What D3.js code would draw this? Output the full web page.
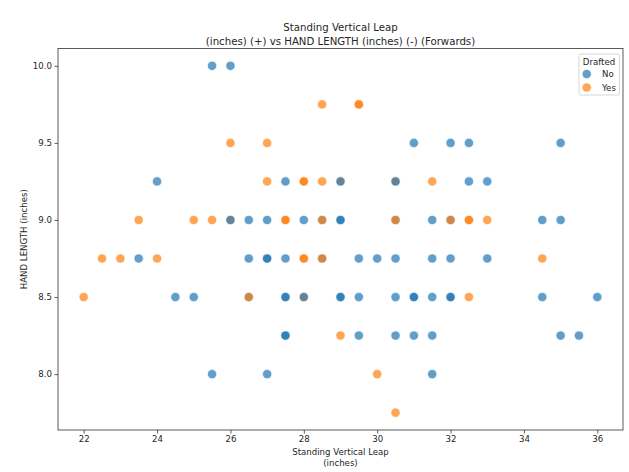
<!DOCTYPE html>
<html>
<head>
<meta charset="utf-8">
<script src="https://cdn.jsdelivr.net/npm/d3@7"></script>
<style>
  html, body { margin: 0; padding: 0; background: #fff; }
  text { font-family: "DejaVu Sans", sans-serif; fill: #262626; }
</style>
</head>
<body>
<svg id="chart" width="629" height="472"></svg>
<script>
// ---- Data (drawing order matters for overlapping points) ----
const leapValues = [
  29, 30.5, 26, 28,
  25.5, 26,
  31, 32, 32.5, 35,
  24, 27.5, 29, 30.5, 32.5, 33,
  26, 26.5, 27, 28, 28.5, 29, 29, 30.5, 31.5, 32, 34.5, 35,
  23.5, 26.5, 27, 27, 27.5, 28.5, 29.5, 30, 30.5, 31.5, 32, 33,
  24.5, 25, 26.5, 27.5, 27.5, 28, 29, 29, 29.5, 30.5, 31, 31, 31.5, 32, 32, 34.5, 36,
  27.5, 27.5, 29.5, 30.5, 31, 31.5, 35, 35.5,
  25.5, 27, 31.5,
  26, 27, 28.5, 29.5, 29.5,
  27, 28, 28, 28.5, 31.5,
  23.5, 25, 25.5, 27.5, 27.5, 28.5, 30.5, 32, 32.5, 32.5, 33,
  22.5, 23, 24, 28, 28, 28.5, 34.5,
  22, 26.5, 32.5,
  29, 30, 30.5
];
const handValues = [
  9.25, 9.25, 9.0, 8.5,
  10.0, 10.0,
  9.5, 9.5, 9.5, 9.5,
  9.25, 9.25, 9.25, 9.25, 9.25, 9.25,
  9.0, 9.0, 9.0, 9.0, 9.0, 9.0, 9.0, 9.0, 9.0, 9.0, 9.0, 9.0,
  8.75, 8.75, 8.75, 8.75, 8.75, 8.75, 8.75, 8.75, 8.75, 8.75, 8.75, 8.75,
  8.5, 8.5, 8.5, 8.5, 8.5, 8.5, 8.5, 8.5, 8.5, 8.5, 8.5, 8.5, 8.5, 8.5, 8.5, 8.5, 8.5,
  8.25, 8.25, 8.25, 8.25, 8.25, 8.25, 8.25, 8.25,
  8.0, 8.0, 8.0,
  9.5, 9.5, 9.75, 9.75, 9.75,
  9.25, 9.25, 9.25, 9.25, 9.25,
  9.0, 9.0, 9.0, 9.0, 9.0, 9.0, 9.0, 9.0, 9.0, 9.0, 9.0,
  8.75, 8.75, 8.75, 8.75, 8.75, 8.75, 8.75,
  8.5, 8.5, 8.5,
  8.25, 8.0, 7.75
];
const draftedValues = [
  "Yes", "Yes", "Yes", "Yes",
  "No", "No",
  "No", "No", "No", "No",
  "No", "No", "No", "No", "No", "No",
  "No", "No", "No", "No", "No", "No", "No", "No", "No", "No", "No", "No",
  "No", "No", "No", "No", "No", "No", "No", "No", "No", "No", "No", "No",
  "No", "No", "No", "No", "No", "No", "No", "No", "No", "No", "No", "No", "No", "No", "No", "No", "No",
  "No", "No", "No", "No", "No", "No", "No", "No",
  "No", "No", "No",
  "Yes", "Yes", "Yes", "Yes", "Yes",
  "Yes", "Yes", "Yes", "Yes", "Yes",
  "Yes", "Yes", "Yes", "Yes", "Yes", "Yes", "Yes", "Yes", "Yes", "Yes", "Yes",
  "Yes", "Yes", "Yes", "Yes", "Yes", "Yes", "Yes",
  "Yes", "Yes", "Yes",
  "Yes", "Yes", "Yes"
];
const xTicks = [22, 24, 26, 28, 30, 32, 34, 36];
const yTicks = [8.0, 8.5, 9.0, 9.5, 10.0];
const hueLevels = ["No", "Yes"];
const hueColors = ["#1f77b4", "#ff7f0e"];
const titleLines = ["Standing Vertical Leap", "(inches) (+) vs HAND LENGTH (inches) (-) (Forwards)"];
const xLabelLines = ["Standing Vertical Leap", "(inches)"];
const yLabel = "HAND LENGTH (inches)";
const legendTitle = "Drafted";

(function () {
const points = leapValues.map((v, i) => ({ x: v, y: handValues[i], d: draftedValues[i] }));

// ---- Layout ----
const svg = d3.select("#chart");
const pLeft = 58, pRight = 623, pTop = 48.5, pBottom = 430;

const x = d3.scaleLinear().domain([21.3, 36.7]).range([pLeft, pRight]);
const y = d3.scaleLinear().domain([7.6375, 10.1125]).range([pBottom, pTop]);
const color = d3.scaleOrdinal().domain(hueLevels).range(hueColors);

// Points
svg.append("g")
  .selectAll("circle")
  .data(points)
  .join("circle")
  .attr("cx", d => x(d.x))
  .attr("cy", d => y(d.y))
  .attr("r", 4.6)
  .attr("fill", d => color(d.d))
  .attr("stroke", "#fff")
  .attr("stroke-width", 0.6)
  .attr("opacity", 0.7);

// Axes
const axisFont = "8.6px";
const xAxis = svg.append("g")
  .attr("transform", `translate(0,${pBottom})`)
  .call(d3.axisBottom(x).tickValues(xTicks).tickSize(3.5).tickPadding(2.5).tickFormat(d3.format("d")));
const yAxis = svg.append("g")
  .attr("transform", `translate(${pLeft},0)`)
  .call(d3.axisLeft(y).tickValues(yTicks).tickSize(3.5).tickPadding(2.5).tickFormat(d3.format(".1f")));
[xAxis, yAxis].forEach(g => {
  g.select(".domain").remove();
  g.selectAll("line").attr("stroke", "#333").attr("stroke-width", 0.8);
  g.selectAll("text").style("font-size", axisFont).style("font-family", "DejaVu Sans").attr("fill", "#262626");
});

// Frame
svg.append("rect")
  .attr("x", pLeft).attr("y", pTop)
  .attr("width", pRight - pLeft).attr("height", pBottom - pTop)
  .attr("fill", "none").attr("stroke", "#333").attr("stroke-width", 0.8);

// Title
const cx = (pLeft + pRight) / 2;
svg.append("g").selectAll("text").data(titleLines).join("text")
  .attr("x", cx).attr("y", (d, i) => 31 + i * 13.5)
  .attr("text-anchor", "middle").style("font-size", "10.2px")
  .text(d => d);

// X label
svg.append("g").selectAll("text").data(xLabelLines).join("text")
  .attr("x", cx).attr("y", (d, i) => 455 + i * 11)
  .attr("text-anchor", "middle").style("font-size", "8.6px")
  .text(d => d);

// Y label
svg.append("text")
  .attr("transform", `translate(27,${(pTop + pBottom) / 2}) rotate(-90)`)
  .attr("text-anchor", "middle").style("font-size", "8.6px")
  .text(yLabel);

// Legend
const lg = svg.append("g");
lg.append("rect")
  .attr("x", 579).attr("y", 54).attr("width", 40.5).attr("height", 41).attr("rx", 2)
  .attr("fill", "#fff").attr("fill-opacity", 0.8).attr("stroke", "#ccc").attr("stroke-width", 0.8);
lg.append("text").attr("x", 599).attr("y", 64.5).attr("text-anchor", "middle")
  .style("font-size", "8.6px").text(legendTitle);
const items = lg.selectAll("g.item").data(hueLevels).join("g").attr("class", "item")
  .attr("transform", (d, i) => `translate(0,${74 + i * 13.5})`);
items.append("circle").attr("cx", 586.7).attr("cy", 0).attr("r", 4.6)
  .attr("fill", d => color(d)).attr("stroke", "#fff").attr("stroke-width", 0.6).attr("opacity", 0.7);
items.append("text").attr("x", 602).attr("y", 3).style("font-size", "8.6px").text(d => d);
})();
</script>
</body>
</html>
